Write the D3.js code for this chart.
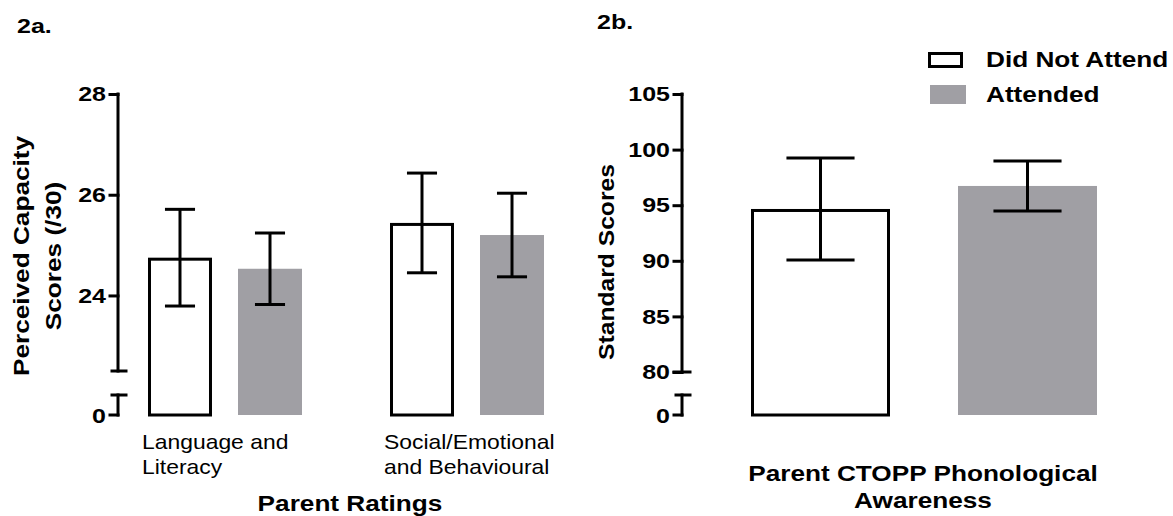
<!DOCTYPE html>
<html>
<head>
<meta charset="utf-8">
<script src="https://cdn.jsdelivr.net/npm/d3@7"></script>
<style>
  html, body { margin: 0; padding: 0; background: #fff; }
  svg { display: block; }
  text { font-family: "Liberation Sans", Arial, Helvetica, sans-serif; fill: #000; }
</style>
</head>
<body>
<svg id="chart" width="1173" height="516"></svg>
<script>
// ---------- data ----------
const series = ["Did Not Attend", "Attended"];
const ratingCategories = ["Language and Literacy", "Social/Emotional and Behavioural"];
const ratingLabelLines = [["Language and", "Literacy"], ["Social/Emotional", "and Behavioural"]];
const ratingMeansNotAttend = [24.75, 25.44];
const ratingErrNotAttend = [0.96, 0.99];
const ratingMeansAttend = [24.53, 25.20];
const ratingErrAttend = [0.71, 0.83];
const ratingTicks = [24, 26, 28];

const ctoppMeans = [94.66, 96.73];      // Did Not Attend, Attended
const ctoppErr = [4.58, 2.25];
const ctoppTicks = [80, 85, 90, 95, 100, 105];

const GREY = "#a09fa4";
const BOLD_SX = 1.19, REG_SX = 1.09;
const svg = d3.select("#chart");

function stretch(t, sx) {
  t.each(function () {
    const n = this.getComputedTextLength();
    d3.select(this).attr("textLength", n * sx).attr("lengthAdjust", "spacingAndGlyphs");
  });
}

function addText(g, x, y, str, size, weight, sx, anchor, rot) {
  const t = g.append("text")
    .attr("font-size", size)
    .attr("font-weight", weight)
    .attr("text-anchor", anchor || "start")
    .text(str);
  if (rot) t.attr("transform", `translate(${x},${y}) rotate(${rot})`);
  else t.attr("x", x).attr("y", y);
  stretch(t, sx);
  return t;
}

function drawBrokenAxis(g, x, yUp, yLow, ticks, upperMin, lowerTop, capBoth) {
  const ax = g.append("g").attr("transform", `translate(${x},0)`);
  const a = d3.axisLeft(yUp).tickValues(ticks).tickFormat(d3.format("d"))
    .tickSize(8).tickSizeOuter(0).tickPadding(4);
  ax.call(a);
  ax.select(".domain").remove();
  ax.append("line").attr("x1", 0).attr("x2", 0)
    .attr("y1", yUp(d3.max(ticks))).attr("y2", yUp(upperMin));
  // cap at the bottom of upper segment
  ax.append("line").attr("x1", capBoth ? -8 : -6).attr("x2", 8)
    .attr("y1", yUp(upperMin)).attr("y2", yUp(upperMin));
  // lower segment
  ax.append("line").attr("x1", -6).attr("x2", 8)
    .attr("y1", yLow(lowerTop)).attr("y2", yLow(lowerTop));
  ax.append("line").attr("x1", 0).attr("x2", 0)
    .attr("y1", yLow(lowerTop)).attr("y2", yLow(0));
  ax.append("line").attr("x1", -8).attr("x2", 0)
    .attr("y1", yLow(0)).attr("y2", yLow(0));
  ax.append("text").attr("class", "zero").attr("x", -12).attr("y", yLow(0)).attr("dy", "0.36em")
    .attr("text-anchor", "end").text("0");
  ax.selectAll("line").attr("stroke", "#000").attr("stroke-width", 3).attr("stroke-linecap", "square");
  const lbl = ax.selectAll(".tick text, text.zero")
    .attr("font-size", 21).attr("font-weight", "bold")
    .attr("font-family", "Liberation Sans, Arial, sans-serif").attr("fill", "#000")
    .attr("x", -12);
  stretch(lbl, BOLD_SX);
  return ax;
}

function drawBar(g, x, w, yTop, yBottom, fill) {
  if (fill === "white") {
    g.append("rect").attr("x", x + 1.5).attr("y", yTop + 1.5)
      .attr("width", w - 3).attr("height", yBottom - yTop - 1.5)
      .attr("fill", "#fff").attr("stroke", "#000").attr("stroke-width", 3);
  } else {
    g.append("rect").attr("x", x).attr("y", yTop)
      .attr("width", w).attr("height", yBottom - yTop).attr("fill", fill);
  }
}
function drawErr(g, cx, capW, y1, y2) {
  const e = g.append("g").attr("stroke", "#000").attr("stroke-width", 3);
  e.append("line").attr("x1", cx).attr("x2", cx).attr("y1", y1).attr("y2", y2);
  e.append("line").attr("x1", cx - capW / 2).attr("x2", cx + capW / 2).attr("y1", y1).attr("y2", y1);
  e.append("line").attr("x1", cx - capW / 2).attr("x2", cx + capW / 2).attr("y1", y2).attr("y2", y2);
}

// ---------- panel a ----------
const ga = svg.append("g");
const yA = d3.scaleLinear().domain([22.5, 28]).range([371, 94]);
const yA0 = d3.scaleLinear().domain([0, 1]).range([415, 395]);
const xA = d3.scalePoint().domain(ratingCategories).range([225, 467]);
const xAin = d3.scaleBand().domain(series).range([-77, 77]).paddingInner(0.289).paddingOuter(0);

ratingCategories.forEach((c, i) => {
  const vals = [ratingMeansNotAttend[i], ratingMeansAttend[i]];
  const errs = [ratingErrNotAttend[i], ratingErrAttend[i]];
  series.forEach((s, j) => {
    const bx = xA(c) + xAin(s);
    const bw = xAin.bandwidth();
    drawBar(ga, bx, bw, yA(vals[j]), yA0(0), j === 0 ? "white" : GREY);
    drawErr(ga, bx + bw / 2, bw * 0.47, yA(vals[j] + errs[j]), yA(vals[j] - errs[j]));
  });
  ratingLabelLines[i].forEach((ln, k) => {
    addText(ga, xA(c) + xAin(series[0]) - 6, 449 + k * 25, ln, 21, "normal", REG_SX, "start");
  });
});
drawBrokenAxis(ga, 118, yA, yA0, ratingTicks, 22.5, 1, false);

addText(ga, 17, 33, "2a.", 21, "bold", BOLD_SX);
addText(ga, 29, 256, "Perceived Capacity", 22, "bold", BOLD_SX, "middle", -90);
addText(ga, 61, 256, "Scores (/30)", 22, "bold", BOLD_SX, "middle", -90);
addText(ga, 350, 511, "Parent Ratings", 22, "bold", BOLD_SX, "middle");

// ---------- panel b ----------
const gb = svg.append("g");
const yB = d3.scaleLinear().domain([80, 105]).range([372, 94]);
const yB0 = d3.scaleLinear().domain([0, 1]).range([415, 395]);
const xB = d3.scaleBand().domain(series).range([751, 1097]).paddingInner(0.3285).paddingOuter(0);

series.forEach((s, j) => {
  const bx = xB(s), bw = xB.bandwidth();
  drawBar(gb, bx, bw, yB(ctoppMeans[j]), yB0(0), j === 0 ? "white" : GREY);
  drawErr(gb, bx + bw / 2, bw * 0.49, yB(ctoppMeans[j] + ctoppErr[j]), yB(ctoppMeans[j] - ctoppErr[j]));
});
drawBrokenAxis(gb, 682, yB, yB0, ctoppTicks, 80, 1, true);

addText(gb, 597, 29, "2b.", 21, "bold", BOLD_SX);
addText(gb, 614, 262, "Standard Scores", 22, "bold", 1.12, "middle", -90);
addText(gb, 923, 481, "Parent CTOPP Phonological", 22, "bold", BOLD_SX, "middle");
addText(gb, 923, 508, "Awareness", 22, "bold", BOLD_SX, "middle");

// legend
const lg = svg.append("g");
series.forEach((s, j) => {
  if (j === 0) {
    lg.append("rect").attr("x", 929.5).attr("y", 53.5).attr("width", 32).attr("height", 13)
      .attr("fill", "#fff").attr("stroke", "#000").attr("stroke-width", 3);
  } else {
    lg.append("rect").attr("x", 930).attr("y", 85).attr("width", 36).attr("height", 19).attr("fill", GREY);
  }
  addText(lg, 986, j === 0 ? 67 : 102, s, 22, "bold", BOLD_SX);
});
</script>
</body>
</html>
